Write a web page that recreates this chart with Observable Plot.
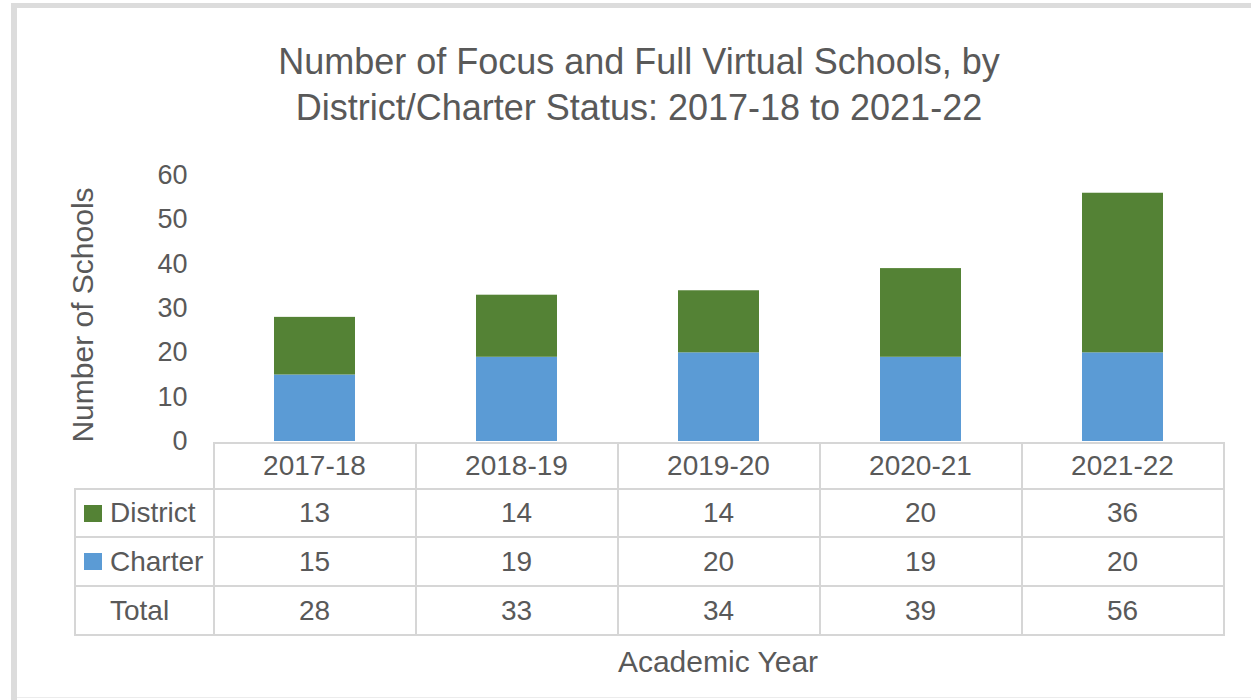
<!DOCTYPE html>
<html>
<head>
<meta charset="utf-8">
<script src="https://cdn.jsdelivr.net/npm/d3@7"></script>
<script src="https://cdn.jsdelivr.net/npm/@observablehq/plot@0.6"></script>
<style>
  html, body { margin: 0; padding: 0; background: #fff; }
  #wrap { position: relative; width: 1251px; height: 700px; overflow: hidden; background: #fff;
          font-family: "Liberation Sans", Arial, sans-serif; color: #595959; }
  .abs { position: absolute; }
  #title { left: 0; width: 1278px; top: 39px; text-align: center; font-size: 36px; line-height: 46px; }
  #ytitle { left: 83px; top: 315px; transform: translate(-50%, -50%) rotate(-90deg); font-size: 30px; white-space: nowrap; }
  #xtitle { left: 718px; top: 662px; transform: translate(-50%, -50%); font-size: 30px; white-space: nowrap; }
  #chart { left: 0; top: 150px; width: 1251px; height: 330px; }
  #chart svg { max-width: none; overflow: visible; }
  .cell { position: absolute; box-sizing: border-box; border: 2px solid #d6d6d6; font-size: 28px;
          display: flex; align-items: center; justify-content: center; background: #fff; }
  .lab { justify-content: flex-start; padding-left: 8px; }
  .sw { display: inline-block; width: 18px; height: 17px; margin-right: 8px; }
  .sw.none { background: transparent; }
</style>
</head>
<body>
<div id="wrap">
  <div class="abs" style="left:11px;top:3px;width:1240px;height:5px;background:#dcdcdc"></div>
  <div class="abs" style="left:11px;top:3px;width:6px;height:697px;background:#dcdcdc"></div>
  <div class="abs" style="left:17px;top:697px;width:1234px;height:1px;background:#ececec"></div>
  <div id="title" class="abs">Number of Focus and Full Virtual Schools, by<br>District/Charter Status: 2017-18 to 2021-22</div>
  <div id="ytitle" class="abs">Number of Schools</div>
  <div id="xtitle" class="abs">Academic Year</div>
  <div id="chart" class="abs"></div>
  <div id="table"></div>
</div>
<script>
const years = ["2017-18", "2018-19", "2019-20", "2020-21", "2021-22"];
const district = [13, 14, 14, 20, 36];
const charter = [15, 19, 20, 19, 20];
const total = [28, 33, 34, 39, 56];
const yTicks = [0, 10, 20, 30, 40, 50, 60];
const seriesNames = ["District", "Charter"];
const seriesColors = ["#548235", "#5b9bd5"];
const rowLabels = ["District", "Charter", "Total"];

const data = years.flatMap((y, i) => [
  {year: y, type: "Charter", value: charter[i]},
  {year: y, type: "District", value: district[i]}
]);

const plot = Plot.plot({
  width: 1251,
  height: 330,
  marginTop: 25,
  marginBottom: 39,
  marginLeft: 213,
  marginRight: 27,
  style: {fontFamily: "Liberation Sans, Arial, sans-serif", fontSize: "27px", color: "#595959", background: "transparent", overflow: "visible"},
  x: {domain: years, paddingInner: 0.6, paddingOuter: 0.3, axis: null},
  y: {domain: [0, 60]},
  color: {domain: seriesNames, range: seriesColors},
  marks: [
    Plot.barY(data, Plot.stackY({x: "year", y: "value", fill: "type", order: ["Charter", "District"]})),
    Plot.axisY({ticks: yTicks, tickSize: 0, tickPadding: 26, fontSize: 27, label: null, fill: "#595959"})
  ]
});
document.getElementById("chart").appendChild(plot);

// Data table aligned to the x band scale
const xs = plot.scale("x");
const step = xs.step, bw = xs.bandwidth;
const table = document.getElementById("table");
const rowTops = [443, 489, 537, 586, 635];
const labelLeft = 75;
function cell(left, top, w, h, html, cls) {
  const d = document.createElement("div");
  d.className = "cell" + (cls ? " " + cls : "");
  d.style.left = left + "px"; d.style.top = top + "px";
  d.style.width = (w + 2) + "px"; d.style.height = (h + 2) + "px";
  d.innerHTML = html;
  table.appendChild(d);
}
const colLeft = (y) => xs.apply(y) - (step - bw) / 2;
const firstLeft = colLeft(years[0]);
years.forEach((y) => cell(colLeft(y) - 1, rowTops[0] - 1, step, rowTops[1] - rowTops[0], y));
const rows = [district, charter, total];
rows.forEach((vals, r) => {
  const top = rowTops[r + 1], h = rowTops[r + 2] - rowTops[r + 1];
  const sw = r < 2 ? `<span class="sw" style="background:${seriesColors[r]}"></span>` : `<span class="sw none"></span>`;
  cell(labelLeft - 1, top - 1, firstLeft - labelLeft, h, sw + rowLabels[r], "lab");
  years.forEach((y, i) => cell(colLeft(y) - 1, top - 1, step, h, String(vals[i])));
});
</script>
</body>
</html>
